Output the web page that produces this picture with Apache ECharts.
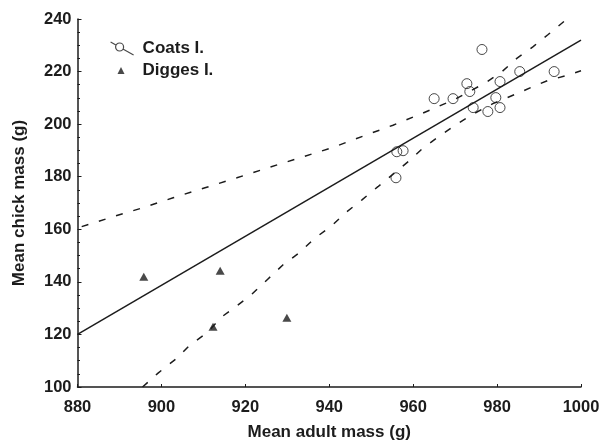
<!DOCTYPE html>
<html>
<head>
<meta charset="utf-8">
<script src="https://cdn.jsdelivr.net/npm/echarts@6/dist/echarts.min.js"></script>
<style>
	html,body{margin:0;padding:0;background:#fff;}
	#main{width:600px;height:447px;}
</style>
</head>
<body>
<div id="main"></div>
<script>
// values
var xTicks = [880, 900, 920, 940, 960, 980, 1000];
var yTicks = [100, 120, 140, 160, 180, 200, 220, 240];

var coats = [
	[955.9, 179.6], [956.1, 189.5], [957.6, 189.9], [965.0, 209.7],
	[969.5, 209.7], [972.8, 215.4], [973.5, 212.4], [974.3, 206.3],
	[976.4, 228.4], [977.8, 204.8], [979.7, 210.1], [980.7, 206.3],
	[980.7, 216.2], [985.4, 220.0], [993.6, 220.0]
];
var digges = [
	[895.8, 141.9], [912.3, 122.9], [914.0, 144.2], [929.9, 126.3]
];
var fitLine = [[880, 120], [1000, 232]];
var upperBand = [
	[881, 161], [888.5, 164.8], [895.6, 168.2], [902.8, 172], [910.4, 175.8],
	[918, 179.6], [925.4, 183.4], [933, 187.2], [940.6, 191], [948, 195.4],
	[955.2, 199.6], [962.3, 204.2], [970, 209.5], [977.1, 215.6], [981.2, 220],
	[984.7, 225], [988.6, 229.5], [992.1, 234], [996.2, 239.4], [998.6, 241]
];
var lowerBand = [
	[895.5, 100], [899.2, 105.3], [903.7, 111], [906.8, 116], [910.8, 120.5],
	[914.4, 126.7], [918, 130.9], [921.6, 135.4], [925.4, 141.1], [929, 146.5],
	[932.8, 151], [936.4, 156.4], [940.7, 161.5], [944.2, 166.7], [947.8, 171.2],
	[951.6, 176.2], [959, 186], [962.4, 191], [966.4, 195.6], [970.2, 199.8],
	[974, 203.6], [979, 207.8], [984.7, 211.6], [988.6, 214.3], [992.1, 216.6],
	[996.6, 218.5], [1000, 220.3]
];

var ink = '#1c1c1c';
var font = "'Liberation Sans', Arial, sans-serif";
var coatsIcon = 'path://M0,0 L5.3,3 M12.7,7.2 L23,13 M13,5 A4,4 0 1 1 5,5 A4,4 0 1 1 13,5 Z';

var myChart = echarts.init(document.getElementById('main'));

function plain(v){
	return String(v);
}

var option = {
	animation: false,
	backgroundColor: '#fff',
	grid: {left: 77.5, right: 19, top: 19, bottom: 60, containLabel: false, outerBoundsMode: 'none'},
	legend: [{
		left: 110, top: 40, padding: 0,
		itemWidth: 23, itemHeight: 13,
		data: [{name: 'Coats I.', icon: coatsIcon,
			itemStyle: {color: '#fff', borderColor: ink, borderWidth: 1.2}}],
		textStyle: {fontFamily: font, fontWeight: 'bold', fontSize: 17, color: ink, padding: [0, 0, 0, 4]}
	}, {
		left: 117.5, top: 62, padding: 0,
		itemWidth: 7, itemHeight: 7,
		data: [{name: 'Digges I.', icon: 'triangle'}],
		textStyle: {fontFamily: font, fontWeight: 'bold', fontSize: 17, color: ink, padding: [3, 0, 0, 13]}
	}],
	xAxis: {
		type: 'value', min: xTicks[0], max: xTicks[xTicks.length - 1], interval: 20,
		name: 'Mean adult mass (g)', nameLocation: 'middle', nameGap: 37,
		nameTextStyle: {fontFamily: font, fontWeight: 'bold', fontSize: 17, color: ink},
		axisLine: {lineStyle: {color: ink, width: 1.5}},
		axisTick: {inside: true, length: 3, lineStyle: {color: ink}},
		axisLabel: {margin: 12, formatter: plain, fontFamily: font, fontWeight: 'bold', fontSize: 16.5, color: ink},
		splitLine: {show: false}
	},
	yAxis: {
		type: 'value', min: yTicks[0], max: yTicks[yTicks.length - 1], interval: 20,
		name: 'Mean chick mass (g)', nameLocation: 'middle', nameGap: 50,
		nameTextStyle: {fontFamily: font, fontWeight: 'bold', fontSize: 17, color: ink},
		axisLine: {show: true, lineStyle: {color: ink, width: 1.5}},
		axisTick: {show: true, inside: true, length: 4, lineStyle: {color: ink}},
		minorTick: {show: true, splitNumber: 4, length: 2.5, lineStyle: {color: ink}},
		axisLabel: {margin: 6, formatter: plain, fontFamily: font, fontWeight: 'bold', fontSize: 16.5, color: ink},
		splitLine: {show: false}
	},
	series: [{
		name: 'fit', type: 'line', data: fitLine, symbol: 'none', silent: true,
		lineStyle: {color: ink, width: 1.5}
	}, {
		name: 'upper', type: 'line', data: upperBand, symbol: 'none', silent: true,
		lineStyle: {color: ink, width: 1.5, type: [7, 11]}
	}, {
		name: 'lower', type: 'line', data: lowerBand, symbol: 'none', silent: true,
		lineStyle: {color: ink, width: 1.5, type: [7, 11]}
	}, {
		name: 'Coats I.', type: 'scatter', data: coats, symbol: 'circle', symbolSize: 10,
		itemStyle: {color: 'rgba(255,255,255,0)', borderColor: ink, borderWidth: 1}
	}, {
		name: 'Digges I.', type: 'scatter', data: digges, symbol: 'triangle', symbolSize: [9, 8],
		itemStyle: {color: ink}
	}]
};

myChart.setOption(option);
window.onresize = myChart.resize;
</script>
</body>
</html>
